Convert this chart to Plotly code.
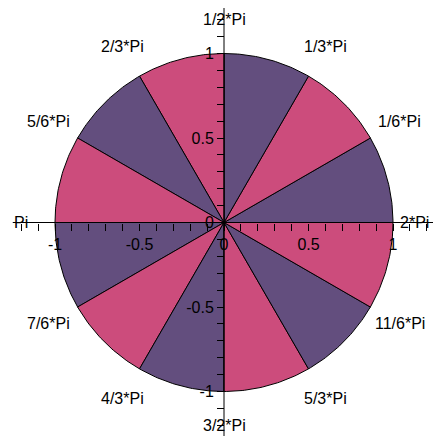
import numpy as np
import plotly.graph_objects as go

# ---- data ----
sector_starts = [i * np.pi / 6 for i in range(12)]          # sector start angles (rad)
sector_width = np.pi / 6
sector_radius = [1.0] * 12
sector_colors = ["#634E7E", "#CC4C7C"] * 6                    # purple, pink alternating
angle_labels = ["2*Pi", "1/6*Pi", "1/3*Pi", "1/2*Pi", "2/3*Pi", "5/6*Pi",
                "Pi", "7/6*Pi", "4/3*Pi", "3/2*Pi", "5/3*Pi", "11/6*Pi"]
label_angles = [i * np.pi / 6 for i in range(12)]
label_radius = 1.2
tick_vals = [-1, -0.5, 0, 0.5, 1]
tick_text = ["-1", "-0.5", "0", "0.5", "1"]
minor_vals = [round(v, 1) for v in np.arange(-1.2, 1.21, 0.1)]

# ---- geometry of the canvas (page has an 8px body margin) ----
OFF = 8
W, H = 441 - OFF, 436 - OFF
CX, CY, UNIT = 224 - OFF, 222.5 - OFF, 169.0
x_range = [-CX / UNIT, (W - CX) / UNIT]
y_range = [-(H - CY) / UNIT, CY / UNIT]

fig = go.Figure()
for a0, r, col in zip(sector_starts, sector_radius, sector_colors):
    th = np.linspace(a0, a0 + sector_width, 40)
    xs = np.concatenate([[0], r * np.cos(th), [0]])
    ys = np.concatenate([[0], r * np.sin(th), [0]])
    fig.add_trace(go.Scatter(x=xs, y=ys, mode="lines", fill="toself",
                             fillcolor=col, line=dict(color="black", width=1),
                             hoverinfo="skip", showlegend=False))

font = dict(family="Arial, Liberation Sans, sans-serif", size=16, color="black")

for txt, a in zip(angle_labels, label_angles):
    lx, ly = label_radius * np.cos(a), label_radius * np.sin(a)
    if lx > 1.13:                       # keep the right-hand label inside the page
        lx = 1.13
    fig.add_annotation(x=lx, y=ly, text=txt, showarrow=False, font=font,
                       xanchor="center", yanchor="middle")

# axis lines through origin
fig.add_shape(type="line", x0=-1.25, x1=1.25, y0=0, y1=0,
              line=dict(color="black", width=1), layer="above")
fig.add_shape(type="line", x0=0, x1=0, y0=-1.32, y1=1.3,
              line=dict(color="black", width=1), layer="above")

xpos = (0 - y_range[0]) / (y_range[1] - y_range[0])
ypos = (0 - x_range[0]) / (x_range[1] - x_range[0])

axis_common = dict(showgrid=False, zeroline=False, showline=False,
                   tickmode="array", tickvals=tick_vals, ticktext=tick_text,
                   ticks="outside", ticklen=7, tickcolor="black", tickwidth=1,
                   minor=dict(tickmode="array", tickvals=minor_vals, ticks="outside",
                              ticklen=7, tickcolor="black", tickwidth=1, showgrid=False),
                   tickfont=font, automargin=False, fixedrange=True)

fig.update_layout(
    width=W, height=H,
    margin=dict(l=0, r=0, t=0, b=0, pad=0),
    paper_bgcolor="white", plot_bgcolor="white",
    showlegend=False,
    font=font,
    xaxis=dict(range=x_range, anchor="free", position=xpos, side="bottom", **axis_common),
    yaxis=dict(range=y_range, anchor="free", position=ypos, side="left", **axis_common),
)

fig.write_html("out.html")
